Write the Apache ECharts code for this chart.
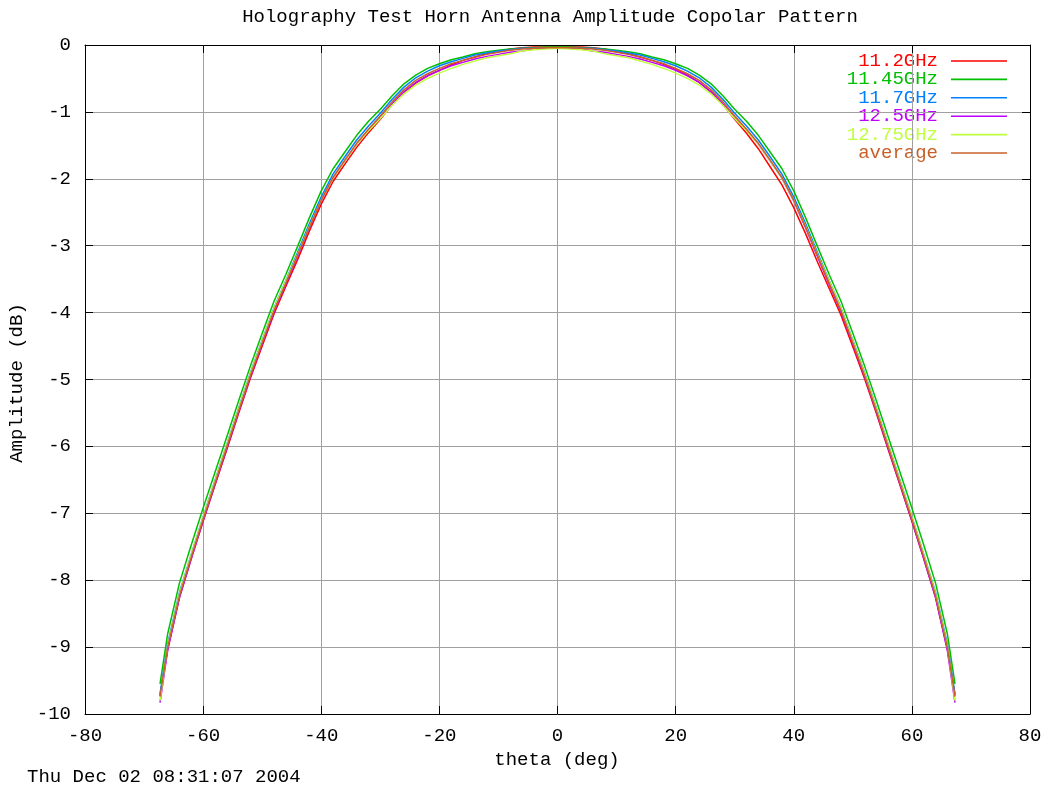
<!DOCTYPE html>
<html>
<head>
<meta charset="utf-8">
<title>Holography Test Horn Antenna Amplitude Copolar Pattern</title>
<script src="https://cdn.jsdelivr.net/npm/echarts@6/dist/echarts.min.js"></script>
<style>
  html, body { margin: 0; padding: 0; background: #ffffff; }
  #chart { width: 1048px; height: 790px; }
</style>
</head>
<body>
<div id="chart"></div>
<script>
// Scan angles (deg), shared by every frequency
const theta = [-67.3, -66, -64, -62, -60, -58, -56, -54, -52, -50, -48, -46, -44, -42, -40, -38, -36, -34,
  -32, -30, -28, -26, -24, -22, -20, -18, -16, -14, -12, -10, -8, -6, -4, -2, 0,
  2, 4, 6, 8, 10, 12, 14, 16, 18, 20, 22, 24, 26, 28, 30, 32, 34,
  36, 38, 40, 42, 44, 46, 48, 50, 52, 54, 56, 58, 60, 62, 64, 66, 67.3];

// Copolar amplitude (dB) per frequency
const amp11_2 = [-9.73, -9.03, -8.25, -7.67, -7.12, -6.58, -6.05, -5.51, -4.98, -4.50, -4.02, -3.61, -3.21, -2.78, -2.38, -2.04, -1.78, -1.53,
  -1.31, -1.11, -0.89, -0.71, -0.57, -0.46, -0.38, -0.30, -0.23, -0.18, -0.13, -0.10, -0.06, -0.04, -0.03, -0.03, -0.03,
  -0.03, -0.03, -0.04, -0.06, -0.10, -0.13, -0.18, -0.23, -0.29, -0.36, -0.45, -0.56, -0.70, -0.89, -1.11, -1.32, -1.55,
  -1.82, -2.09, -2.43, -2.82, -3.24, -3.64, -4.04, -4.51, -4.99, -5.51, -6.05, -6.58, -7.12, -7.67, -8.25, -9.02, -9.72];

const amp11_45 = [-9.55, -8.80, -8.04, -7.47, -6.92, -6.39, -5.86, -5.32, -4.80, -4.31, -3.83, -3.43, -3.01, -2.58, -2.18, -1.85, -1.60, -1.35,
  -1.14, -0.96, -0.76, -0.58, -0.45, -0.35, -0.28, -0.22, -0.18, -0.13, -0.10, -0.08, -0.06, -0.05, -0.04, -0.03, -0.03,
  -0.03, -0.04, -0.05, -0.06, -0.08, -0.10, -0.13, -0.18, -0.22, -0.28, -0.35, -0.45, -0.58, -0.76, -0.96, -1.14, -1.35,
  -1.60, -1.85, -2.18, -2.58, -3.01, -3.43, -3.83, -4.31, -4.80, -5.32, -5.86, -6.39, -6.92, -7.47, -8.04, -8.80, -9.55];

const amp11_7 = [-9.70, -8.95, -8.18, -7.61, -7.05, -6.51, -5.97, -5.43, -4.90, -4.41, -3.93, -3.52, -3.10, -2.67, -2.27, -1.93, -1.67, -1.42,
  -1.21, -1.02, -0.81, -0.63, -0.49, -0.39, -0.31, -0.25, -0.20, -0.15, -0.12, -0.09, -0.07, -0.05, -0.05, -0.04, -0.04,
  -0.04, -0.05, -0.05, -0.07, -0.09, -0.12, -0.15, -0.20, -0.25, -0.31, -0.39, -0.49, -0.63, -0.81, -1.02, -1.21, -1.42,
  -1.67, -1.93, -2.27, -2.67, -3.10, -3.52, -3.93, -4.41, -4.90, -5.43, -5.97, -6.51, -7.05, -7.61, -8.18, -8.95, -9.70];

const amp12_5 = [-9.83, -9.05, -8.26, -7.68, -7.11, -6.57, -6.03, -5.49, -4.96, -4.47, -3.99, -3.58, -3.16, -2.73, -2.33, -1.99, -1.73, -1.48,
  -1.27, -1.09, -0.88, -0.70, -0.56, -0.46, -0.38, -0.31, -0.26, -0.21, -0.17, -0.14, -0.11, -0.09, -0.06, -0.05, -0.04,
  -0.05, -0.06, -0.09, -0.11, -0.14, -0.17, -0.21, -0.26, -0.31, -0.38, -0.46, -0.56, -0.70, -0.88, -1.09, -1.27, -1.48,
  -1.73, -1.99, -2.33, -2.73, -3.16, -3.58, -3.99, -4.47, -4.96, -5.49, -6.03, -6.57, -7.11, -7.68, -8.26, -9.05, -9.83];

const amp12_75 = [-9.80, -8.98, -8.20, -7.62, -7.06, -6.52, -5.98, -5.44, -4.91, -4.42, -3.94, -3.53, -3.13, -2.71, -2.32, -1.99, -1.73, -1.48,
  -1.28, -1.10, -0.90, -0.73, -0.60, -0.50, -0.42, -0.35, -0.29, -0.24, -0.19, -0.16, -0.13, -0.09, -0.07, -0.06, -0.05,
  -0.06, -0.07, -0.09, -0.13, -0.16, -0.19, -0.24, -0.29, -0.35, -0.42, -0.50, -0.60, -0.73, -0.90, -1.10, -1.28, -1.48,
  -1.73, -1.99, -2.32, -2.71, -3.13, -3.53, -3.94, -4.42, -4.91, -5.44, -5.98, -6.52, -7.06, -7.62, -8.20, -8.98, -9.80];

const ampAverage = [-9.74, -9.00, -8.23, -7.65, -7.09, -6.55, -6.01, -5.47, -4.94, -4.45, -3.97, -3.56, -3.14, -2.72, -2.32, -1.98, -1.72, -1.47,
  -1.26, -1.06, -0.85, -0.67, -0.53, -0.43, -0.35, -0.28, -0.23, -0.18, -0.14, -0.11, -0.08, -0.06, -0.05, -0.04, -0.04,
  -0.04, -0.05, -0.06, -0.08, -0.11, -0.14, -0.18, -0.23, -0.28, -0.35, -0.43, -0.53, -0.67, -0.85, -1.06, -1.26, -1.47,
  -1.72, -1.98, -2.32, -2.72, -3.14, -3.56, -3.97, -4.45, -4.94, -5.47, -6.01, -6.55, -7.09, -7.65, -8.23, -9.00, -9.74];

const seriesNames = ['11.2GHz', '11.45GHz', '11.7GHz', '12.5GHz', '12.75GHz', 'average'];
const seriesData = [amp11_2, amp11_45, amp11_7, amp12_5, amp12_75, ampAverage];
const seriesColors = ['#ff0000', '#00c000', '#0080ff', '#c000ff', '#c0ff40', '#c8602a'];

const xTicks = [-80, -60, -40, -20, 0, 20, 40, 60, 80];
const yTicks = [0, -1, -2, -3, -4, -5, -6, -7, -8, -9, -10];

const FONT = '"Liberation Mono", "DejaVu Sans Mono", monospace';
const FONT_SIZE = 19;
const grid = { left: 85, right: 18, top: 45, bottom: 76 };

const chart = echarts.init(document.getElementById('chart'), null, { renderer: 'canvas' });

const baseAxis = {
  type: 'value',
  axisLine: { show: true, onZero: false, lineStyle: { color: '#000000', width: 1 } },
  axisTick: { show: true, inside: true, length: 8, lineStyle: { color: '#000000', width: 1 } },
  splitLine: { show: false }
};

const xMin = xTicks[0], xMax = xTicks[xTicks.length - 1];
const yMin = yTicks[yTicks.length - 1], yMax = yTicks[0];

// Key: right-aligned coloured labels with a short sample line after each
const legendGraphics = [];
seriesNames.forEach(function (name, i) {
  const cy = 61 + i * 18.4;
  legendGraphics.push({
    type: 'text', x: 938, y: cy,
    style: { text: name, fill: seriesColors[i], font: FONT_SIZE + 'px ' + FONT, align: 'right', verticalAlign: 'middle' }
  });
  legendGraphics.push({
    type: 'line', shape: { x1: 951, y1: cy, x2: 1007, y2: cy },
    style: { stroke: seriesColors[i], lineWidth: 1.6 }
  });
});

chart.setOption({
  animation: false,
  backgroundColor: '#ffffff',
  grid: grid,
  xAxis: [
    Object.assign({}, baseAxis, {
      min: xMin, max: xMax, interval: 20, position: 'bottom',
      axisLabel: { show: true, margin: 12, color: '#000000', fontFamily: FONT, fontSize: FONT_SIZE },
      splitLine: { show: true, lineStyle: { color: '#a0a0a0', width: 1 } }
    }),
    Object.assign({}, baseAxis, {
      min: xMin, max: xMax, interval: 20, position: 'top',
      axisLabel: { show: false }
    })
  ],
  yAxis: [
    Object.assign({}, baseAxis, {
      min: yMin, max: yMax, interval: 1, position: 'left',
      axisLabel: { show: true, margin: 14, color: '#000000', fontFamily: FONT, fontSize: FONT_SIZE },
      splitLine: { show: true, lineStyle: { color: '#a0a0a0', width: 1 } }
    }),
    Object.assign({}, baseAxis, {
      min: yMin, max: yMax, interval: 1, position: 'right',
      axisLabel: { show: false }
    })
  ],
  series: seriesNames.map(function (name, i) {
    return {
      name: name,
      type: 'line',
      xAxisIndex: 0,
      yAxisIndex: 0,
      showSymbol: false,
      symbol: 'none',
      smooth: false,
      data: theta.map(function (t, k) { return [t, seriesData[i][k]]; }),
      lineStyle: { color: seriesColors[i], width: 1.5 },
      itemStyle: { color: seriesColors[i] },
      z: 2 + i
    };
  }),
  graphic: [
    {
      type: 'text', x: 550, y: 17,
      style: { text: 'Holography Test Horn Antenna Amplitude Copolar Pattern', fill: '#000000',
        font: FONT_SIZE + 'px ' + FONT, align: 'center', verticalAlign: 'middle' }
    },
    {
      type: 'text', x: 557, y: 760,
      style: { text: 'theta (deg)', fill: '#000000', font: FONT_SIZE + 'px ' + FONT, align: 'center', verticalAlign: 'middle' }
    },
    {
      type: 'text', x: 17, y: 383, rotation: Math.PI / 2,
      style: { text: 'Amplitude (dB)', fill: '#000000', font: FONT_SIZE + 'px ' + FONT, align: 'center', verticalAlign: 'middle' }
    },
    {
      type: 'text', x: 27, y: 777,
      style: { text: 'Thu Dec 02 08:31:07 2004', fill: '#000000', font: FONT_SIZE + 'px ' + FONT, align: 'left', verticalAlign: 'middle' }
    }
  ].concat(legendGraphics)
});
</script>
</body>
</html>
